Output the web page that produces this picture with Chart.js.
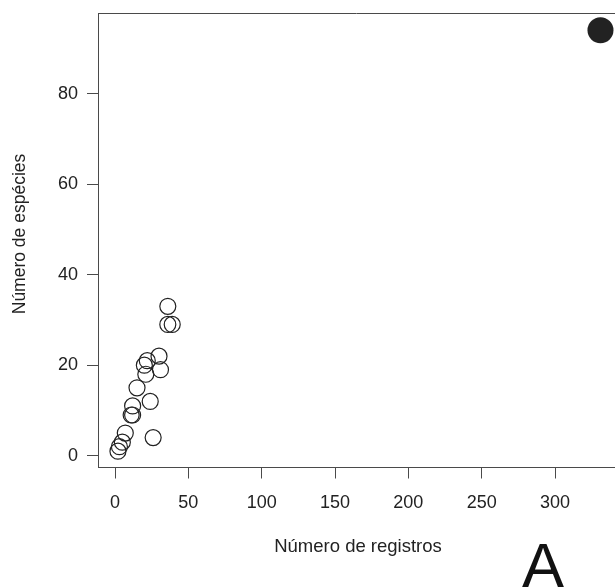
<!DOCTYPE html>
<html>
<head>
<meta charset="utf-8">
<script src="https://cdn.jsdelivr.net/npm/chart.js@4/dist/chart.umd.min.js"></script>
<style>
  html, body { margin: 0; padding: 0; background: #fff; overflow: hidden; }
  #wrap { width: 615px; height: 588px; }
</style>
</head>
<body>
<div id="wrap"><canvas id="chart" width="615" height="588"></canvas></div>
<script>
// open circles: number of records vs number of species
const registros = [36, 36, 39, 30, 22, 20, 31, 21, 15, 24, 12, 11, 12, 7, 26, 5, 3, 2];
const especies  = [33, 29, 29, 22, 21, 20, 19, 18, 15, 12, 11,  9,  9, 5,  4, 3, 2, 1];
// the single filled point
const registrosTotal = [331];
const especiesTotal = [94];

const xTicks = [0, 50, 100, 150, 200, 250, 300];
const yTicks = [0, 20, 40, 60, 80];

const xTitle = 'Número de registros';
const yTitle = 'Número de espécies';
const panelLabel = 'A';

const FONT = "'Liberation Sans', Arial, Helvetica, sans-serif";
const axisGrey = '#4a4a4a';
const inkColor = '#222';

const openPoints = registros.map((x, i) => ({ x: x, y: especies[i] }));
const totalPoints = registrosTotal.map((x, i) => ({ x: x, y: especiesTotal[i] }));

// top border line, axis titles and the panel letter
const extras = {
    id: 'extras',
    afterDraw(chart) {
        const ctx = chart.ctx;
        const area = chart.chartArea;
        ctx.save();
        ctx.strokeStyle = axisGrey;
        ctx.lineWidth = 1;
        ctx.beginPath();
        ctx.moveTo(area.left, Math.round(area.top) + 0.5);
        ctx.lineTo(area.right, Math.round(area.top) + 0.5);
        ctx.stroke();

        ctx.fillStyle = inkColor;
        ctx.textAlign = 'center';
        ctx.textBaseline = 'middle';
        ctx.font = '18.5px ' + FONT;
        ctx.fillText(xTitle, 358, 547);

        ctx.font = '17.5px ' + FONT;
        ctx.save();
        ctx.translate(20, 234);
        ctx.rotate(-Math.PI / 2);
        ctx.fillText(yTitle, 0, 0);
        ctx.restore();

        ctx.font = '63px ' + FONT;
        ctx.textBaseline = 'alphabetic';
        ctx.fillStyle = '#111';
        ctx.fillText(panelLabel, 543, 587);
        ctx.restore();
    }
};

const ctx = document.getElementById('chart').getContext('2d');
new Chart(ctx, {
    type: 'scatter',
    data: {
        datasets: [
            {
                data: openPoints,
                pointRadius: 8,
                pointHoverRadius: 8,
                pointBorderWidth: 1.2,
                pointBorderColor: inkColor,
                pointBackgroundColor: 'rgba(0,0,0,0)'
            },
            {
                data: totalPoints,
                pointRadius: 13,
                pointHoverRadius: 13,
                pointBorderWidth: 0,
                pointBorderColor: inkColor,
                pointBackgroundColor: inkColor
            }
        ]
    },
    options: {
        responsive: false,
        animation: false,
        events: [],
        layout: { autoPadding: false, padding: { left: 0, top: 13, right: 0, bottom: 0 } },
        plugins: {
            legend: { display: false },
            tooltip: { enabled: false }
        },
        scales: {
            x: {
                type: 'linear',
                min: -11.6,
                max: 340.9,
                afterBuildTicks: (scale) => { scale.ticks = xTicks.map(v => ({ value: v })); },
                afterFit: (scale) => {
                    scale.height = 120.5;
                    scale.paddingLeft = 0;
                    scale.paddingRight = 0;
                },
                grid: { drawOnChartArea: false, drawTicks: true, tickLength: 11, color: axisGrey },
                border: { display: true, color: axisGrey, width: 1 },
                ticks: { color: inkColor, font: { family: FONT, size: 18 }, padding: 14, maxRotation: 0 }
            },
            y: {
                type: 'linear',
                min: -2.6,
                max: 97.8,
                afterBuildTicks: (scale) => { scale.ticks = yTicks.map(v => ({ value: v })); },
                afterFit: (scale) => {
                    scale.width = 98;
                    scale.paddingTop = 0;
                    scale.paddingBottom = 0;
                },
                grid: { drawOnChartArea: false, drawTicks: true, tickLength: 11, color: axisGrey },
                border: { display: true, color: axisGrey, width: 1 },
                ticks: { color: inkColor, font: { family: FONT, size: 18 }, padding: 9 }
            }
        }
    },
    plugins: [extras]
});
</script>
</body>
</html>
